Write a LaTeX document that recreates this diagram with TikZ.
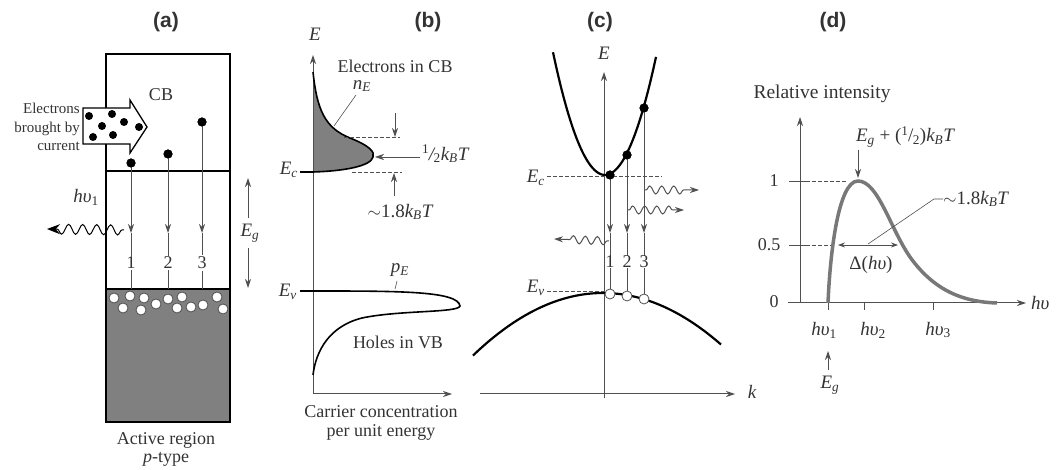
\documentclass[tikz,border=0pt]{standalone}
\usepackage{fontspec}
\setmainfont{Liberation Serif}
\setsansfont{Liberation Sans}
\usetikzlibrary{arrows.meta,decorations.pathmorphing}
\definecolor{txt}{HTML}{333333}
\definecolor{band}{HTML}{808080}
\definecolor{ln}{HTML}{505050}
\definecolor{spec}{HTML}{787878}
\newcommand{\sub}[1]{\textsubscript{#1}}
\begin{document}
\begin{tikzpicture}[x=1pt,y=-1pt,
 lbl/.style={text=txt, font=\fontsize{18}{19}\selectfont, inner sep=1pt},
 small/.style={text=txt, font=\fontsize{15}{18.5}\selectfont, inner sep=1pt},
 mlbl/.style={text=txt, font=\fontsize{19}{21}\selectfont\itshape, inner sep=1pt},
 panel/.style={text=txt, font=\fontsize{21}{24}\selectfont\sffamily\bfseries},
 elec/.style={circle, fill=black, inner sep=0pt, minimum size=9pt},
 hole/.style={circle, fill=white, draw=ln, line width=0.8pt, inner sep=0pt, minimum size=10pt},
 num/.style={lbl, fill=white, inner sep=1.5pt},
 gline/.style={draw=ln, line width=0.9pt},
 tran/.style={gline, -{Stealth[length=9pt,width=6pt]}},
 ax/.style={draw=ln, line width=1pt, -{Stealth[length=9pt,width=6pt]}},
 dsh/.style={draw=ln, dash pattern=on 3.5pt off 2.5pt, line width=0.8pt},
 photon/.style={decorate, decoration={snake, amplitude=5pt, segment length=14pt, post length=10pt, pre length=2pt}, line width=1pt, draw=black},
 band line/.style={line width=2.2pt, draw=black},
]
\useasboundingbox (0,0) rectangle (1061,470);

%================ (a) =================
\node[panel] (la) at (166,22) {(a)};
\fill[band] (106,289) rectangle (230,422);
\draw[line width=1.5pt] (106,54) rectangle (230,422);
\draw[line width=1.5pt] (106,171) -- (230,171);
\draw[line width=1.5pt] (106,289) -- (230,289);
\node[lbl] (cb) at (161,95) {CB};
\foreach \p in {(114,298),(130,296),(144,298),(123,308),(141,310),(156,304),(168,299),(182,297),(177,308),(191,307),(203,305),(217,297),(223,309)}
  \node[hole] at \p {};
% hollow arrow with electrons
\draw[line width=1.3pt, fill=white] (83,108) -- (130,108) -- (130,100) -- (147,127) -- (130,153) -- (130,144) -- (83,144) -- cycle;
\foreach \p in {(89,116),(112,114),(124,122),(102,126),(139,127),(93,137),(113,135)}
  \node[elec, minimum size=8pt] at \p {};
\node[small, align=right, anchor=east] (cur) at (81,127) {Electrons\\brought by\\current};
% transitions
\coordinate (a1m) at (131,233); \coordinate (a1b) at (131,289);
\coordinate (a2m) at (168,233); \coordinate (a2b) at (168,289);
\coordinate (a3m) at (202,233); \coordinate (a3b) at (202,289);
\node[elec] (ae1) at (131,163) {};
\node[elec] (ae2) at (168,154) {};
\node[elec] (ae3) at (202,122) {};
\draw[tran] (ae1.center) -- (a1m);
\draw[tran] (ae2.center) -- (a2m);
\draw[tran] (ae3.center) -- (a3m);
\draw[gline] (a1m) -- (a1b);
\draw[gline] (a2m) -- (a2b);
\draw[gline] (a3m) -- (a3b);
\node[elec] at (ae1) {};
\node[elec] at (ae2) {};
\node[elec] at (ae3) {};
\node[num] (n1) at (131,263) {1};
\node[num] (n2) at (168,263) {2};
\node[num] (n3) at (202,263) {3};
% photon
\coordinate (pa0) at (124,230); \coordinate (pa1) at (47,229);
\draw[photon, -{Stealth[length=13pt,width=10pt]}] (pa0) -- (pa1);
\node[mlbl] (hv1) at (86,197) {hυ\sub{\upshape 1}};
% Eg arrows
\coordinate (ega) at (248,218); \coordinate (egt) at (248,178);
\coordinate (egb) at (248,248); \coordinate (egd) at (248,288);
\draw[tran] (ega) -- (egt);
\draw[tran] (egb) -- (egd);
\node[mlbl] (eg) at (250,233) {E\sub{g}};
\node[lbl] (act) at (166,440) {Active region};
\node[lbl] (pt) at (166,459) {\textit{p}-type};

%================ (b) =================
\node[panel] (lb) at (428,22) {(b)};
\coordinate (bO) at (313,394);
\coordinate (bE) at (313,55);
\coordinate (bX) at (452,394);
\fill[band] (313,72) .. controls (317,110) and (325,128) .. (350,138) .. controls (370,146) and (375,152) .. (373,157) .. controls (371,166) and (345,171) .. (313,172) -- cycle;
\draw[ax] (bO) -- (bE);
\draw[ax] (bO) -- (bX);
\draw[line width=1.6pt] (313,72) .. controls (317,110) and (325,128) .. (350,138) .. controls (370,146) and (375,152) .. (373,157) .. controls (371,166) and (345,171) .. (313,172) -- (300,172);
\node[mlbl] (bEl) at (315,34) {E};
\node[mlbl, anchor=east] (bEc) at (299,170) {E\sub{c}};
\draw[dsh] (352,172) -- (402,172);
\draw[dsh] (344,137) -- (400,137);
\coordinate (bd0) at (395,113); \coordinate (bd1) at (395,137);
\coordinate (bu0) at (394,196); \coordinate (bu1) at (394,173);
\draw[tran] (bd0) -- (bd1);
\draw[tran] (bu0) -- (bu1);
\coordinate (bh0) at (420,157); \coordinate (bh1) at (375,157);
\draw[tran, line width=0.6pt] (bh0) -- (bh1);
\node[mlbl, anchor=west] (half) at (421,154) {\textsuperscript{\upshape 1}\kern-0.5pt/\kern-0.5pt\sub{\upshape 2}k\sub{B}T};
\node[mlbl] (w18) at (400,212) {\upshape$\sim$1.8\itshape k\sub{B}T};
\node[lbl] (elcb) at (395,66) {Electrons in CB};
\node[mlbl] (nE) at (362,86) {n\sub{E}};
\draw[gline, line width=0.6pt] (356,95) -- (334,126);
\draw[line width=1.6pt] (300,291) -- (313,291) .. controls (400,291) and (458,291) .. (460,306) .. controls (458,313) and (400,310) .. (362,318) .. controls (330,326) and (316,350) .. (313,375);
\node[mlbl, anchor=east] (bEv) at (298,292) {E\sub{v}};
\node[mlbl] (pE) at (400,270) {p\sub{E}};
\draw[gline, line width=0.6pt] (397,281) -- (395,289);
\node[lbl] (hvb) at (398,342) {Holes in VB};
\node[lbl, align=center] (cc) at (381,423) {Carrier concentration\\per unit energy};

%================ (c) =================
\node[panel] (lc) at (600,22) {(c)};
\coordinate (cO) at (604,398);
\coordinate (cE) at (604,72);
\coordinate (cL) at (480,394);
\coordinate (cK) at (735,394);
\draw[ax] (cO) -- (cE);
\draw[ax] (cL) -- (cK);
\node[mlbl] (cEl) at (604,53) {E};
\node[mlbl] (kl) at (752,392) {k};
\draw[band line] plot[domain=-52:51, smooth, samples=41] ({605+\x},{175-4.54*(\x/10)*(\x/10)});
\draw[band line] plot[domain=-130:118, smooth, samples=51] ({603+\x},{293+0.37*(\x/10)*(\x/10)});
\draw[dsh] (547,176) -- (662,176);
\draw[dsh] (547,291) -- (606,291);
\node[mlbl, anchor=east] (cEc) at (546,178) {E\sub{c}};
\node[mlbl, anchor=east] (cEv) at (546,288) {E\sub{v}};
\node[elec] (ce1) at (610,175) {};
\node[elec] (ce2) at (627,155) {};
\node[elec] (ce3) at (644,108) {};
\node[hole] (ch1) at (610,294) {};
\node[hole] (ch2) at (627,296) {};
\node[hole] (ch3) at (644,299) {};
\coordinate (c1m) at (610,233); \coordinate (c2m) at (627,233); \coordinate (c3m) at (644,233);
\draw[tran] (ce1.center) -- (c1m);
\draw[tran] (ce2.center) -- (c2m);
\draw[tran] (ce3.center) -- (c3m);
\draw[gline] (c1m) -- (ch1.north);
\draw[gline] (c2m) -- (ch2.north);
\draw[gline] (c3m) -- (ch3.north);
\node[elec] at (ce1) {};
\node[elec] at (ce2) {};
\node[elec] at (ce3) {};
\node[num, inner sep=0.3pt] (cn1) at (610,262) {1};
\node[num, inner sep=0.3pt] (cn2) at (627,262) {2};
\node[num, inner sep=0.3pt] (cn3) at (644,262) {3};
\coordinate (cp1a) at (609,241); \coordinate (cp1b) at (554,239);
\coordinate (cp2a) at (644,190); \coordinate (cp2b) at (699,190);
\coordinate (cp3a) at (627,210); \coordinate (cp3b) at (684,210);
\draw[photon, draw=ln, decoration={amplitude=4pt, segment length=12pt}, -{Stealth[length=9pt,width=6pt]}] (cp1a) -- (cp1b);
\draw[photon, draw=ln, decoration={amplitude=4pt, segment length=12pt}, -{Stealth[length=9pt,width=6pt]}] (cp2a) -- (cp2b);
\draw[photon, draw=ln, decoration={amplitude=4pt, segment length=12pt}, -{Stealth[length=9pt,width=6pt]}] (cp3a) -- (cp3b);

%================ (d) =================
\node[panel] (ld) at (833,22) {(d)};
\node[lbl, font=\fontsize{19.5}{21}\selectfont] (ri) at (822,94) {Relative intensity};
\coordinate (dO) at (800,303);
\coordinate (dY) at (800,117);
\coordinate (dL) at (788,303);
\coordinate (dX) at (1026,303);
\draw[ax] (dO) -- (dY);
\draw[ax] (dL) -- (dX);
\draw[gline] (789,181) -- (806,181);
\draw[gline] (789,245) -- (806,245);
\draw[dsh] (806,181) -- (846,181);
\draw[dsh] (806,245) -- (834,245);
\node[lbl] (d1) at (774,181) {1};
\node[lbl] (d05) at (769,245) {0.5};
\node[lbl] (d0) at (774,302) {0};
\draw[gline] (828,303) -- (828,310);
\draw[gline] (864,303) -- (864,310);
\draw[gline] (933,303) -- (933,310);
\draw[spec, line width=3.5pt] (828,303) .. controls (830,255) and (838,181) .. (858,181) .. controls (878,181) and (890,228) .. (910,257) .. controls (935,292) and (965,302) .. (997,303);
\node[mlbl] (pk) at (905,137) {E\sub{g}\upshape\ + (\textsuperscript{1}\kern-0.5pt/\kern-0.5pt\sub{2})\itshape k\sub{B}T};
\coordinate (pka) at (858,150); \coordinate (pkb) at (858,178);
\draw[tran] (pka) -- (pkb);
\coordinate (dwa) at (838,245); \coordinate (dwb) at (898,245);
\draw[gline, line width=0.7pt, {Stealth[length=7pt,width=5pt]}-{Stealth[length=7pt,width=5pt]}] (dwa) -- (dwb);
\node[mlbl] (dh) at (871,265) {\upshape Δ(\itshape hυ\upshape)};
\draw[gline, line width=0.6pt] (868,244) -- (934,199) -- (943,199);
\node[mlbl, anchor=west] (d18) at (942,199) {\upshape$\sim$1.8\itshape k\sub{B}T};
\node[mlbl] (h1) at (824,330) {hυ\sub{\upshape 1}};
\node[mlbl] (h2) at (873,330) {hυ\sub{\upshape 2}};
\node[mlbl] (h3) at (938,330) {hυ\sub{\upshape 3}};
\node[mlbl, anchor=west] (hx) at (1030,303) {hυ};
\coordinate (ega0) at (828,370); \coordinate (ega1) at (828,351);
\draw[tran] (ega0) -- (ega1);
\node[mlbl] (egd) at (830,385) {E\sub{g}};
\end{tikzpicture}
\end{document}
